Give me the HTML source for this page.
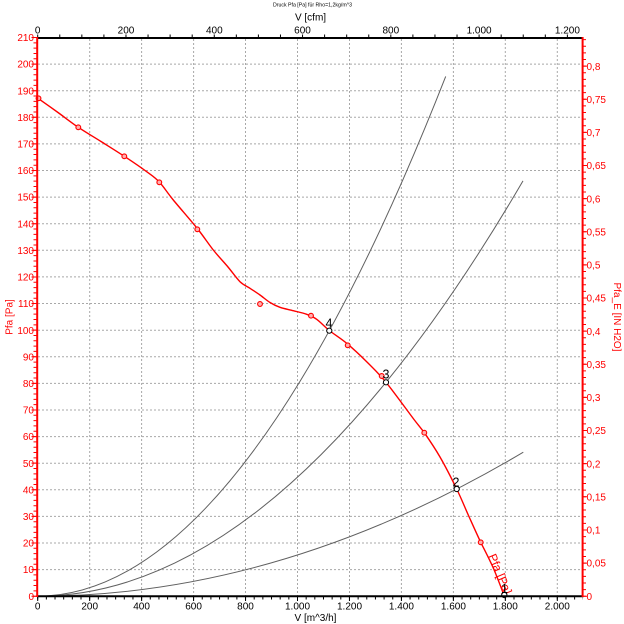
<!DOCTYPE html>
<html><head><meta charset="utf-8">
<style>
html,body{margin:0;padding:0;background:#fff;}
svg{display:block;}
text{font-family:"Liberation Sans",Arial,sans-serif;}
</style></head>
<body>
<svg width="624" height="624" viewBox="0 0 624 624" xmlns="http://www.w3.org/2000/svg">
<rect width="624" height="624" fill="#fff"/>
<!-- title -->
<text x="312.5" y="6.3" font-size="5.5" text-anchor="middle" fill="#000" textLength="79" lengthAdjust="spacingAndGlyphs">Druck Pfa [Pa] für Rho=1,2kg/m^3</text>
<text x="310.5" y="20.7" font-size="10" text-anchor="middle" fill="#000">V [cfm]</text>

<!-- grid -->
<g stroke="#a8a8a8" stroke-width="1" stroke-dasharray="2 2" fill="none">
<path d="M89.7,39V596 M141.6,39V596 M193.6,39V596 M245.5,39V596 M297.5,39V596 M349.5,39V596 M401.4,39V596 M453.4,39V596 M505.3,39V596 M557.3,39V596"/>
<path d="M38,569.6H582 M38,543H582 M38,516.4H582 M38,489.8H582 M38,463.2H582 M38,436.6H582 M38,410H582 M38,383.4H582 M38,356.8H582 M38,330.2H582 M38,303.5H582 M38,276.9H582 M38,250.3H582 M38,223.7H582 M38,197.1H582 M38,170.5H582 M38,143.9H582 M38,117.3H582 M38,90.7H582 M38,64.1H582"/>
</g>

<!-- system curves -->
<g stroke="#606060" stroke-width="1" fill="none">
<path d="M37.7,596.2 Q241.7,596.2 445.7,76.4"/>
<path d="M37.7,596.2 Q280.35,596.2 523,180.9"/>
<path d="M37.7,596.2 Q280.65,596.2 523.3,452.2"/>
</g>

<!-- fan curve -->
<path fill="none" stroke="#ff0000" stroke-width="1.4" stroke-linejoin="round" stroke-linecap="round" d="M38,98.3 C41.33,100.67 51.28,107.67 58,112.5 C64.72,117.33 71.13,122.47 78.3,127.3 C85.47,132.13 93.33,136.67 101,141.5 C108.67,146.33 116.68,151.27 124.3,156.3 C131.92,161.33 140.87,167.42 146.7,171.7 C152.53,175.98 154.87,177.28 159.3,182 C163.73,186.72 166.97,192.25 173.3,200 C179.63,207.75 190.63,220.17 197.3,228.5 C203.97,236.83 208.18,243.58 213.3,250 C218.42,256.42 223.55,261.72 228,267 C232.45,272.28 236.33,278.15 240,281.7 C243.67,285.25 246.67,286.08 250,288.3 C253.33,290.52 256.67,292.63 260,295 C263.33,297.37 266.67,300.45 270,302.5 C273.33,304.55 276.12,305.93 280,307.3 C283.88,308.67 288.85,309.53 293.3,310.7 C297.75,311.87 302.8,312.87 306.7,314.3 C310.6,315.73 312.93,316.6 316.7,319.3 C320.47,322 324.3,326.5 329.3,330.5 C334.3,334.5 340.47,338.1 346.7,343.3 C352.93,348.5 360.15,355.2 366.7,361.7 C373.25,368.2 378.12,372.67 386,382.3 C393.88,391.93 407.62,411.1 414,419.5 C418.2,425 420.5,427.5 424.3,432.7 C428.63,438.95 434.6,447.62 440,457 C445.4,466.38 451.95,479.25 456.7,489 C461.45,498.75 464.5,506.62 468.5,515.5 C472.5,524.38 476.57,533.55 480.7,542.3 C485.13,550.97 489.37,559.05 493.3,568 C497.23,576.95 502.47,591.33 504.3,596"/>
<g fill="#ffb0b0" stroke="#ff0000" stroke-width="1.1">
<circle cx="38.5" cy="98.3" r="2.4"/>
<circle cx="78.3" cy="127.3" r="2.4"/>
<circle cx="124.3" cy="156.3" r="2.4"/>
<circle cx="159.3" cy="182.3" r="2.4"/>
<circle cx="197.3" cy="229.3" r="2.4"/>
<circle cx="260" cy="304" r="2.4"/>
<circle cx="311" cy="315.7" r="2.4"/>
<circle cx="347.7" cy="345.3" r="2.4"/>
<circle cx="381.7" cy="376" r="2.4"/>
<circle cx="424.3" cy="432.7" r="2.4"/>
<circle cx="480.7" cy="542.3" r="2.4"/>
</g>
<text transform="translate(488,556) rotate(67)" font-size="12" fill="#ff0000">Pfa [Pa]</text>

<!-- operating points -->
<g fill="#fff" stroke="#000" stroke-width="1">
<circle cx="329.3" cy="330.7" r="2.6"/>
<circle cx="386" cy="382.3" r="2.6"/>
<circle cx="456.7" cy="489" r="2.6"/>
<circle cx="504.3" cy="595" r="2.6"/>
</g>
<g font-size="12.5" fill="#000">
<text x="325.5" y="327.5">4</text>
<text x="382.5" y="378.7">3</text>
<text x="452.5" y="486.7">2</text>
<text x="501" y="593">1</text>
</g>

<!-- ticks -->
<path d="M35,596.7V37" stroke="#ff0000" stroke-width="3" stroke-dasharray="1 4.321"/>
<path d="M34,596.7V37" stroke="#ff0000" stroke-width="5" stroke-dasharray="1 25.605"/>
<path d="M584.5,596.7V37" stroke="#ff0000" stroke-width="3" stroke-dasharray="1 5.626"/>
<path d="M585,596.7V37" stroke="#ff0000" stroke-width="4" stroke-dasharray="1 32.13"/>
<path d="M37.2,598H583" stroke="#000" stroke-width="3" stroke-dasharray="1 7.66"/>
<path d="M37.2,599H583" stroke="#000" stroke-width="4" stroke-dasharray="1 50.96"/>
<path d="M37.2,36H583" stroke="#000" stroke-width="3" stroke-dasharray="1 21.07"/>

<!-- axis lines -->
<line x1="37" y1="38" x2="583.5" y2="38" stroke="#000" stroke-width="2"/>
<line x1="37" y1="596.2" x2="583.5" y2="596.2" stroke="#000" stroke-width="2"/>
<line x1="37.2" y1="37" x2="37.2" y2="597" stroke="#ff0000" stroke-width="2"/>
<line x1="582.6" y1="37" x2="582.6" y2="597" stroke="#ff0000" stroke-width="2"/>

<!-- top labels -->
<g font-size="10" fill="#000" text-anchor="middle">
<text x="37.7" y="33.3">0</text>
<text x="126" y="33.3">200</text>
<text x="214.3" y="33.3">400</text>
<text x="302.5" y="33.3">600</text>
<text x="390.8" y="33.3">800</text>
<text x="479.1" y="33.3">1.000</text>
<text x="567.4" y="33.3">1.200</text>
</g>

<!-- bottom labels -->
<g font-size="10" fill="#000" text-anchor="middle">
<text x="37.7" y="609.5">0</text>
<text x="89.7" y="609.5">200</text>
<text x="141.6" y="609.5">400</text>
<text x="193.6" y="609.5">600</text>
<text x="245.5" y="609.5">800</text>
<text x="297.5" y="609.5">1.000</text>
<text x="349.5" y="609.5">1.200</text>
<text x="401.4" y="609.5">1.400</text>
<text x="453.4" y="609.5">1.600</text>
<text x="505.3" y="609.5">1.800</text>
<text x="557.3" y="609.5">2.000</text>
</g>
<text x="315.5" y="621" font-size="10" fill="#000" text-anchor="middle">V [m^3/h]</text>

<!-- left labels -->
<g font-size="10" fill="#ff0000" text-anchor="end">
<text x="34" y="599.8">0</text>
<text x="34" y="573.2">10</text>
<text x="34" y="546.6">20</text>
<text x="34" y="520">30</text>
<text x="34" y="493.4">40</text>
<text x="34" y="466.8">50</text>
<text x="34" y="440.2">60</text>
<text x="34" y="413.6">70</text>
<text x="34" y="387">80</text>
<text x="34" y="360.4">90</text>
<text x="34" y="333.8">100</text>
<text x="34" y="307.1">110</text>
<text x="34" y="280.5">120</text>
<text x="34" y="253.9">130</text>
<text x="34" y="227.3">140</text>
<text x="34" y="200.7">150</text>
<text x="34" y="174.1">160</text>
<text x="34" y="147.5">170</text>
<text x="34" y="120.9">180</text>
<text x="34" y="94.3">190</text>
<text x="34" y="67.7">200</text>
<text x="34" y="41.1">210</text>
</g>
<text transform="translate(12.5,317) rotate(-90)" font-size="10" fill="#ff0000" text-anchor="middle">Pfa [Pa]</text>

<!-- right labels -->
<g font-size="10" fill="#ff0000">
<text x="586.5" y="599.8">0</text>
<text x="586.5" y="566.7">0,05</text>
<text x="586.5" y="533.5">0,1</text>
<text x="586.5" y="500.4">0,15</text>
<text x="586.5" y="467.3">0,2</text>
<text x="586.5" y="434.2">0,25</text>
<text x="586.5" y="401">0,3</text>
<text x="586.5" y="367.9">0,35</text>
<text x="586.5" y="334.8">0,4</text>
<text x="586.5" y="301.7">0,45</text>
<text x="586.5" y="268.5">0,5</text>
<text x="586.5" y="235.4">0,55</text>
<text x="586.5" y="202.3">0,6</text>
<text x="586.5" y="169.2">0,65</text>
<text x="586.5" y="136">0,7</text>
<text x="586.5" y="102.9">0,75</text>
<text x="586.5" y="69.8">0,8</text>
</g>
<text transform="translate(614,317) rotate(90)" font-size="10" fill="#ff0000" text-anchor="middle">Pfa_E [IN H2O]</text>
</svg>
</body></html>
